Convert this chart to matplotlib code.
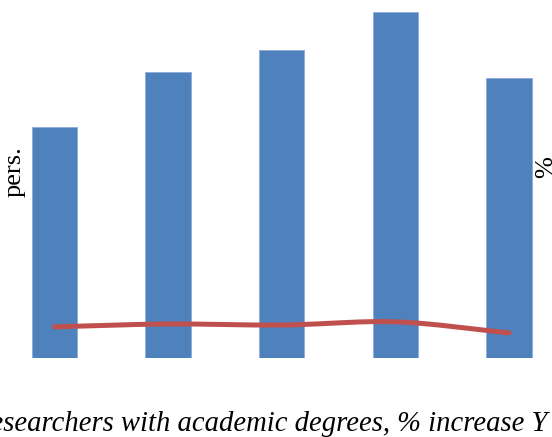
import numpy as np
import matplotlib.pyplot as plt

# researchers (pers.) and growth (%) by year
years = ['2010', '2011', '2012', '2013', '2014']
researchers = [2310, 2860, 3080, 3460, 2800]
increase = [8.7, 9.5, 9.2, 10.1, 7.0]

bar_color = '#4F81BD'
line_color = '#C0504D'


def smooth(xs, ys, n=40):
    # Catmull-Rom curve through the points, like a smoothed line in a spreadsheet
    xs = np.asarray(xs, float)
    ys = np.asarray(ys, float)
    px = np.concatenate([[2 * xs[0] - xs[1]], xs, [2 * xs[-1] - xs[-2]]])
    py = np.concatenate([[2 * ys[0] - ys[1]], ys, [2 * ys[-1] - ys[-2]]])
    out_x, out_y = [], []
    t = np.linspace(0, 1, n)
    for i in range(1, len(px) - 2):
        for p, out in ((px, out_x), (py, out_y)):
            p0, p1, p2, p3 = p[i - 1], p[i], p[i + 1], p[i + 2]
            out.extend(0.5 * ((2 * p1) + (-p0 + p2) * t
                              + (2 * p0 - 5 * p1 + 4 * p2 - p3) * t ** 2
                              + (-p0 + 3 * p1 - 3 * p2 + p3) * t ** 3))
    return np.array(out_x), np.array(out_y)


fig = plt.figure(figsize=(5.52, 4.37), dpi=100)
ax = fig.add_axes([0, 0.1808, 1, 0.8192])
x = np.arange(len(years))
ax.bar(x, researchers, width=0.4, color=bar_color, edgecolor='#8EAADB', linewidth=0.6)
ax.set_xlim(-0.48, 4.379)
ax.set_ylim(0, 3580)
ax.axis('off')

ax2 = ax.twinx()
sx, sy = smooth(x, increase)
ax2.plot(sx, sy, color=line_color, linewidth=3.6, solid_capstyle='round')
ax2.set_ylim(0, 100)
ax2.axis('off')

font = 'Liberation Serif'
fig.text(15 / 552, 1 - 172 / 437, 'pers.', rotation=90, ha='center', va='center',
         family=font, fontsize=19)
fig.text(546 / 552, 1 - 167 / 437, '%', rotation=90, ha='center', va='center',
         family=font, fontsize=19)
fig.text(-27 / 552, 1 - 424 / 437, 'Researchers with academic degrees, % increase Y',
         ha='left', va='center', family=font, style='italic', fontsize=20.6)

fig.savefig('out.png', dpi=100)
